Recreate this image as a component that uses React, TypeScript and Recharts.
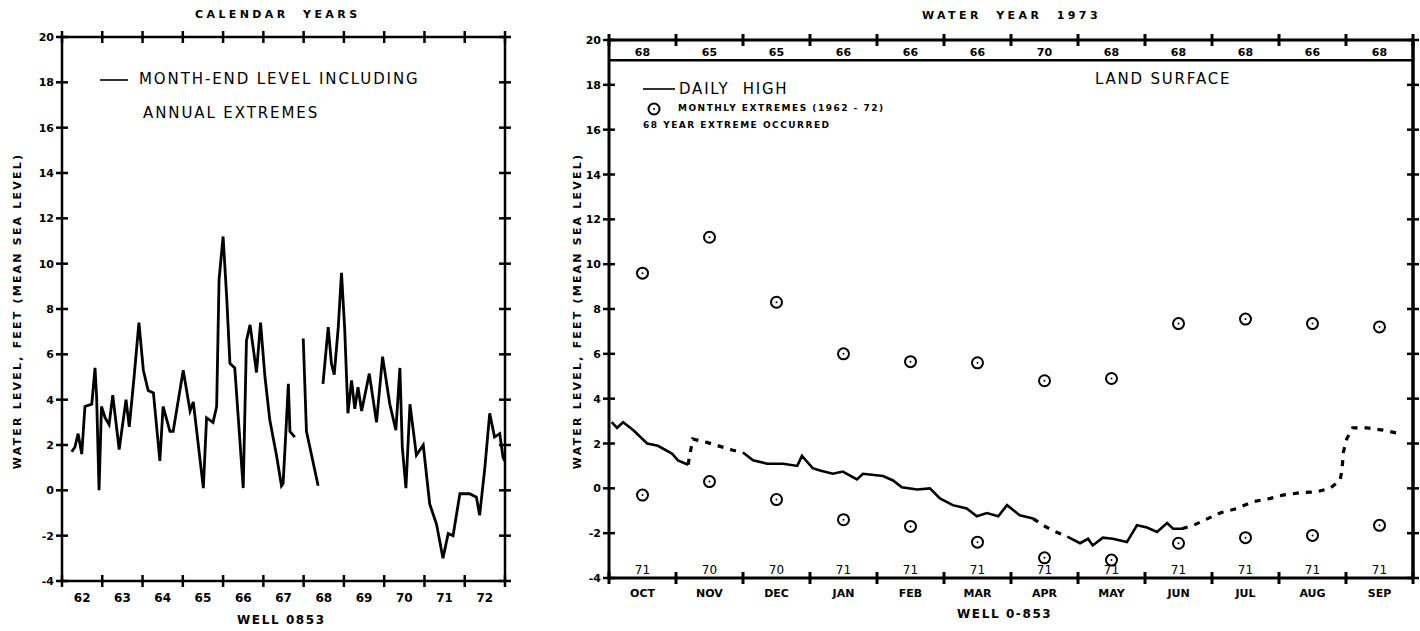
import React from 'react';
import { LineChart, ComposedChart, Line, Scatter, XAxis, YAxis, ReferenceLine } from 'recharts';

// ---- left panel: month-end levels, calendar years 1962-72 ----
const calYears = [
  1962.24, 1962.32, 1962.40, 1962.49, 1962.57, 1962.74, 1962.82, 1962.86, 1962.92, 1962.98,
  1963.07, 1963.17, 1963.26, 1963.42, 1963.59, 1963.67, 1963.79, 1963.91, 1964.02, 1964.14,
  1964.27, 1964.43, 1964.51, 1964.68, 1964.76, 1965.01, 1965.18, 1965.26, 1965.51, 1965.59,
  1965.75, 1965.84, 1965.90, 1966.00, 1966.09, 1966.17, 1966.29, 1966.50, 1966.58, 1966.67,
  1966.83, 1966.93, 1967.04, 1967.16, 1967.33, 1967.45, 1967.49, 1967.56, 1967.62, 1967.66,
  1967.78, 1967.88,
  1967.99, 1968.07, 1968.36, 1968.42,
  1968.48, 1968.61, 1968.69, 1968.76, 1968.86, 1968.94, 1969.02, 1969.10, 1969.19, 1969.27,
  1969.35, 1969.44, 1969.63, 1969.81, 1969.96, 1970.14, 1970.29, 1970.39, 1970.45, 1970.54,
  1970.64, 1970.80, 1970.97, 1971.13, 1971.30, 1971.46, 1971.59, 1971.71, 1971.88, 1972.12,
  1972.29, 1972.37, 1972.50, 1972.62, 1972.74, 1972.87, 1972.95, 1972.99,
];
const calLevels: (number | null)[] = [
  1.7, 1.9, 2.5, 1.6, 3.7, 3.8, 5.4, 4.1, 0.0, 3.7,
  3.2, 2.9, 4.2, 1.8, 4.0, 2.8, 5.0, 7.4, 5.3, 4.4,
  4.3, 1.3, 3.7, 2.6, 2.6, 5.3, 3.5, 3.9, 0.1, 3.2,
  3.0, 3.7, 9.3, 11.2, 8.5, 5.6, 5.4, 0.1, 6.6, 7.3,
  5.2, 7.4, 5.0, 3.1, 1.5, 0.2, 0.3, 2.6, 4.7, 2.6,
  2.35, null,
  6.7, 2.6, 0.2, null,
  4.7, 7.2, 5.6, 5.1, 7.2, 9.6, 7.1, 3.4, 4.85, 3.6,
  4.55, 3.5, 5.15, 3.0, 5.9, 3.8, 2.65, 5.4, 1.9, 0.1,
  3.8, 1.55, 2.0, -0.6, -1.5, -3.0, -1.9, -2.0, -0.15, -0.15,
  -0.3, -1.1, 1.0, 3.4, 2.35, 2.5, 1.45, 1.3,
];
const calTicks = [1962, 1963, 1964, 1965, 1966, 1967, 1968, 1969, 1970, 1971, 1972, 1973];
const calLabels = ['62', '63', '64', '65', '66', '67', '68', '69', '70', '71', '72'];
const levelTicks = [-4, -2, 0, 2, 4, 6, 8, 10, 12, 14, 16, 18, 20];

// ---- right panel: water year 1973 ----
const monthNames = ['OCT', 'NOV', 'DEC', 'JAN', 'FEB', 'MAR', 'APR', 'MAY', 'JUN', 'JUL', 'AUG', 'SEP'];
const highYears = ['68', '65', '65', '66', '66', '66', '70', '68', '68', '68', '66', '68'];
const lowYears = ['71', '70', '70', '71', '71', '71', '71', '71', '71', '71', '71', '71'];
const monthlyHigh = [9.6, 11.2, 8.3, 6.0, 5.65, 5.6, 4.8, 4.9, 7.35, 7.55, 7.35, 7.2];
const monthlyLow = [-0.3, 0.3, -0.5, -1.4, -1.7, -2.4, -3.1, -3.2, -2.45, -2.2, -2.1, -1.65];
const monthMid = [0.5, 1.5, 2.5, 3.5, 4.5, 5.5, 6.5, 7.5, 8.5, 9.5, 10.5, 11.5];
const monthTicks = [0, 1, 2, 3, 4, 5, 6, 7, 8, 9, 10, 11, 12];
const landSurface = 19.1;

// daily high, recorded stretches (null = gap) and estimated stretches
const dailyT = [
  0.04, 0.12, 0.21, 0.36, 0.57, 0.73, 0.94, 1.03, 1.18, 1.19,
  2.0, 2.15, 2.36, 2.6, 2.81, 2.88, 3.04, 3.15, 3.34, 3.49, 3.7, 3.79, 4.09, 4.24, 4.37,
  4.6, 4.79, 4.94, 5.13, 5.34, 5.49, 5.64, 5.81, 5.94, 6.13, 6.33, 6.34,
  6.84, 7.03, 7.15, 7.22, 7.37, 7.52, 7.73, 7.88, 8.03, 8.18, 8.33, 8.42, 8.55,
];
const dailyHigh: (number | null)[] = [
  2.95, 2.7, 2.95, 2.6, 2.0, 1.9, 1.55, 1.25, 1.05, null,
  1.6, 1.25, 1.1, 1.1, 1.0, 1.45, 0.9, 0.8, 0.65, 0.75, 0.4, 0.65, 0.55, 0.35, 0.05,
  -0.05, 0.0, -0.45, -0.75, -0.9, -1.25, -1.1, -1.25, -0.75, -1.2, -1.35, null,
  -2.15, -2.45, -2.25, -2.55, -2.2, -2.25, -2.4, -1.65, -1.75, -1.95, -1.55, -1.8, -1.8,
];
const estT = [
  1.18, 1.25, 1.46, 1.85, 2.0, 2.01,
  6.33, 6.48, 6.63, 6.84, 6.85,
  8.55, 8.72, 9.12, 9.37, 9.61, 9.87, 10.06, 10.31, 10.57, 10.76, 10.91, 10.94, 10.96, 11.01,
  11.1, 11.31, 11.55, 11.78,
];
const estHigh: (number | null)[] = [
  1.05, 2.2, 2.05, 1.7, 1.6, null,
  -1.35, -1.65, -1.9, -2.15, null,
  -1.8, -1.65, -1.1, -0.9, -0.6, -0.45, -0.3, -0.2, -0.15, 0.0, 0.35, 0.8, 1.6, 2.2,
  2.7, 2.7, 2.6, 2.45,
];

const calData = calYears.map((t, i) => ({ t, v: calLevels[i] }));
const recData = dailyT.map((t, i) => ({ t, v: dailyHigh[i] }));
const estData = estT.map((t, i) => ({ t, v: estHigh[i] }));
const highData = monthMid.map((t, i) => ({ t, v: monthlyHigh[i] }));
const lowData = monthMid.map((t, i) => ({ t, v: monthlyLow[i] }));

const BOLD = { fontFamily: 'DejaVu Sans', fontWeight: 700 } as const;
const THIN = { fontFamily: 'DejaVu Sans', fontWeight: 400 } as const;

// chart boxes; axes are 1px thick so margins are one less than the plot edge
const L = { w: 530, h: 631, top: 36, left: 61, right: 24, bottom: 49 };
const lHalf = (L.w - L.left - L.right - 2) / 11 / 2;
const R = { x: 540, w: 880, h: 631, top: 39, left: 68, right: 6, bottom: 52 };
const rHalf = (R.w - R.left - R.right - 2) / 12 / 2;

const HCross = ({ x, y, w = 2.5 }: any) => (
  <line x1={x} x2={x} y1={y - 6} y2={y + 6} stroke="#000" strokeWidth={w} />
);
const VCross = ({ x, y, w = 2.5 }: any) => (
  <line x1={x - 6} x2={x + 6} y1={y} y2={y} stroke="#000" strokeWidth={w} />
);

const CalBottomTick = ({ x, y, index }: any) => (
  <g>
    <HCross x={x} y={y} />
    {index < calLabels.length && (
      <text x={x + lHalf} y={y + 21} textAnchor="middle" fontSize={12} {...BOLD} fill="#000">
        {calLabels[index]}
      </text>
    )}
  </g>
);
const PlainXTick = ({ x, y }: any) => <HCross x={x} y={y} />;
const PlainYTick = ({ x, y }: any) => <VCross x={x} y={y} />;
const LevelTick = ({ x, y, payload }: any) => (
  <g>
    <VCross x={x} y={y} />
    <text x={x - 8} y={y + 4} textAnchor="end" fontSize={11} {...BOLD} fill="#000">
      {payload.value}
    </text>
  </g>
);

const MonthBottomTick = ({ x, y, index }: any) => (
  <g>
    <HCross x={x} y={y} w={3} />
    {index < monthNames.length && (
      <>
        <text x={x + rHalf} y={y + 19} textAnchor="middle" fontSize={11} {...BOLD} fill="#000">
          {monthNames[index]}
        </text>
        <text x={x + rHalf} y={y - 4} textAnchor="middle" fontSize={12} {...THIN} fill="#000">
          {lowYears[index]}
        </text>
      </>
    )}
  </g>
);
const MonthTopTick = ({ x, y, index }: any) => (
  <g>
    <HCross x={x} y={y} w={3} />
    {index < highYears.length && (
      <text x={x + rHalf} y={y + 16} textAnchor="middle" fontSize={11} {...BOLD} fill="#000">
        {highYears[index]}
      </text>
    )}
  </g>
);

const Ring = ({ cx, cy }: any) => (
  <g>
    <circle cx={cx} cy={cy} r={5.5} fill="#fff" stroke="#000" strokeWidth={2} />
    <circle cx={cx} cy={cy} r={1} fill="#000" />
  </g>
);

const abs = (left: number, top: number, extra: React.CSSProperties = {}): React.CSSProperties => ({
  position: 'absolute',
  left,
  top,
  whiteSpace: 'nowrap',
  color: '#000',
  lineHeight: 1,
  ...extra,
});

export default function App() {
  return (
    <div style={{ position: 'absolute', left: 0, top: 0, width: 1420, height: 631, background: '#fff' }}>
      {/* LEFT PANEL */}
      <div style={abs(0, 0)}>
        <LineChart
          width={L.w}
          height={L.h}
          data={calData}
          margin={{ top: L.top, left: L.left, right: L.right, bottom: L.bottom }}
        >
          <XAxis
            xAxisId="b" dataKey="t" type="number" domain={[1962, 1973]} allowDataOverflow
            ticks={calTicks} interval={0} height={1} tickSize={0} tickMargin={0}
            axisLine={{ stroke: '#000', strokeWidth: 2.5 }} tickLine={false} tick={<CalBottomTick />}
          />
          <XAxis
            xAxisId="t" orientation="top" dataKey="t" type="number" domain={[1962, 1973]} allowDataOverflow
            ticks={calTicks} interval={0} height={1} tickSize={0} tickMargin={0}
            axisLine={{ stroke: '#000', strokeWidth: 2.5 }} tickLine={false} tick={<PlainXTick />}
          />
          <YAxis
            yAxisId="l" type="number" domain={[-4, 20]} allowDataOverflow ticks={levelTicks} interval={0}
            width={1} tickSize={0} tickMargin={0}
            axisLine={{ stroke: '#000', strokeWidth: 2.5 }} tickLine={false} tick={<LevelTick />}
          />
          <YAxis
            yAxisId="r" orientation="right" type="number" domain={[-4, 20]} allowDataOverflow ticks={levelTicks}
            interval={0} width={1} tickSize={0} tickMargin={0}
            axisLine={{ stroke: '#000', strokeWidth: 2.5 }} tickLine={false} tick={<PlainYTick />}
          />
          <Line
            xAxisId="b" yAxisId="l" dataKey="v" type="linear" stroke="#000" strokeWidth={2.8}
            dot={false} connectNulls={false} isAnimationActive={false}
          />
        </LineChart>
      </div>

      <div style={abs(195, 9, { ...BOLD, fontSize: 11, letterSpacing: 3.4 })}>CALENDAR&nbsp; YEARS</div>
      <svg style={abs(100, 75)} width={30} height={10}>
        <line x1={0} x2={28} y1={5} y2={5} stroke="#000" strokeWidth={1.6} />
      </svg>
      <div style={abs(139, 72, { ...THIN, fontSize: 15, letterSpacing: 1.9 })}>MONTH-END LEVEL INCLUDING</div>
      <div style={abs(143, 106, { ...THIN, fontSize: 15, letterSpacing: 1.9 })}>ANNUAL EXTREMES</div>
      <div style={abs(237, 614, { ...BOLD, fontSize: 12, letterSpacing: 1.6 })}>WELL 0853</div>
      <div
        style={abs(17, 311, {
          ...BOLD, fontSize: 11, letterSpacing: 2.2,
          transform: 'translate(-50%, -50%) rotate(-90deg)',
        })}
      >
        WATER LEVEL, FEET (MEAN SEA LEVEL)
      </div>

      {/* RIGHT PANEL */}
      <div style={abs(R.x, 0)}>
        <ComposedChart
          width={R.w}
          height={R.h}
          margin={{ top: R.top, left: R.left, right: R.right, bottom: R.bottom }}
        >
          <XAxis
            xAxisId="b" dataKey="t" type="number" domain={[0, 12]} allowDataOverflow
            ticks={monthTicks} interval={0} height={1} tickSize={0} tickMargin={0}
            axisLine={{ stroke: '#000', strokeWidth: 3 }} tickLine={false} tick={<MonthBottomTick />}
          />
          <XAxis
            xAxisId="t" orientation="top" dataKey="t" type="number" domain={[0, 12]} allowDataOverflow
            ticks={monthTicks} interval={0} height={1} tickSize={0} tickMargin={0}
            axisLine={{ stroke: '#000', strokeWidth: 3 }} tickLine={false} tick={<MonthTopTick />}
          />
          <YAxis
            yAxisId="l" type="number" domain={[-4, 20]} allowDataOverflow ticks={levelTicks} interval={0}
            width={1} tickSize={0} tickMargin={0}
            axisLine={{ stroke: '#000', strokeWidth: 3 }} tickLine={false} tick={<LevelTick />}
          />
          <YAxis
            yAxisId="r" orientation="right" type="number" domain={[-4, 20]} allowDataOverflow ticks={levelTicks}
            interval={0} width={1} tickSize={0} tickMargin={0}
            axisLine={{ stroke: '#000', strokeWidth: 3.5 }} tickLine={false} tick={<PlainYTick />}
          />
          <ReferenceLine xAxisId="b" yAxisId="l" y={landSurface} stroke="#000" strokeWidth={2.5} />
          <Line
            xAxisId="b" yAxisId="l" data={recData} dataKey="v" type="linear" stroke="#000" strokeWidth={2.6}
            dot={false} connectNulls={false} isAnimationActive={false}
          />
          <Line
            xAxisId="b" yAxisId="l" data={estData} dataKey="v" type="linear" stroke="#000" strokeWidth={3.2}
            strokeDasharray="6 7" dot={false} connectNulls={false} isAnimationActive={false}
          />
          <Scatter xAxisId="b" yAxisId="l" data={highData} dataKey="v" shape={<Ring />} isAnimationActive={false} />
          <Scatter xAxisId="b" yAxisId="l" data={lowData} dataKey="v" shape={<Ring />} isAnimationActive={false} />
        </ComposedChart>
      </div>

      <div style={abs(922, 10, { ...BOLD, fontSize: 11, letterSpacing: 3.4 })}>WATER&nbsp; YEAR&nbsp; 1973</div>
      <div style={abs(1095, 72, { ...THIN, fontSize: 15, letterSpacing: 1.8 })}>LAND SURFACE</div>
      <svg style={abs(643, 84)} width={34} height={10}>
        <line x1={0} x2={32} y1={5} y2={5} stroke="#000" strokeWidth={1.6} />
      </svg>
      <div style={abs(679, 82, { ...THIN, fontSize: 15, letterSpacing: 1.8 })}>DAILY&nbsp; HIGH</div>
      <svg style={abs(647, 102)} width={14} height={14}>
        <Ring cx={7} cy={7} />
      </svg>
      <div style={abs(678, 104, { ...BOLD, fontSize: 9, letterSpacing: 1.5 })}>MONTHLY EXTREMES (1962 - 72)</div>
      <div style={abs(643, 121, { ...BOLD, fontSize: 9, letterSpacing: 1.5 })}>68 YEAR EXTREME OCCURRED</div>
      <div style={abs(957, 608, { ...BOLD, fontSize: 12, letterSpacing: 1.6 })}>WELL 0-853</div>
      <div
        style={abs(577, 311, {
          ...BOLD, fontSize: 11, letterSpacing: 2.2,
          transform: 'translate(-50%, -50%) rotate(-90deg)',
        })}
      >
        WATER LEVEL, FEET (MEAN SEA LEVEL)
      </div>
    </div>
  );
}
